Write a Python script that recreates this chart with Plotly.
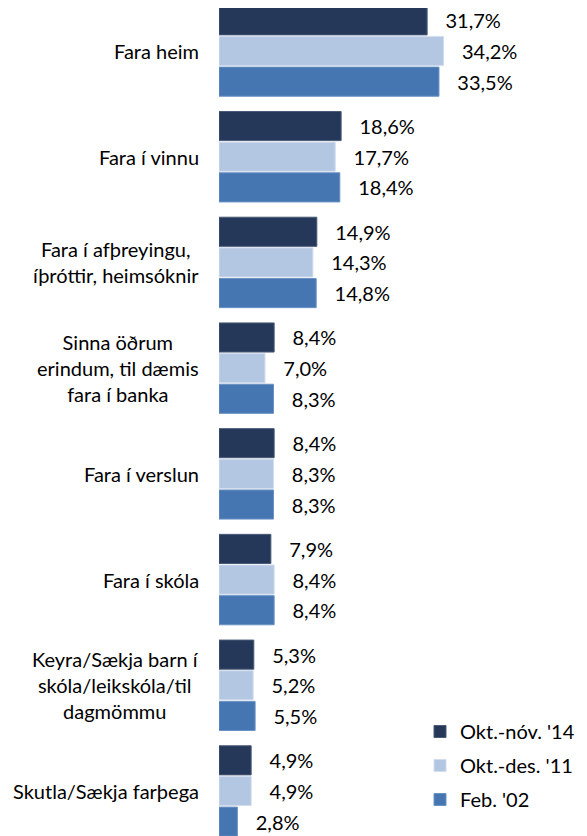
import plotly.graph_objects as go

categories = [
    "Fara heim",
    "Fara í vinnu",
    "Fara í afþreyingu,<br>íþróttir, heimsóknir",
    "Sinna öðrum<br>erindum, til dæmis<br>fara í banka",
    "Fara í verslun",
    "Fara í skóla",
    "Keyra/Sækja barn í<br>skóla/leikskóla/til<br>dagmömmu",
    "Skutla/Sækja farþega",
]
series_names = ["Okt.-nóv. '14", "Okt.-des. '11", "Feb. '02"]
okt_nov_14 = [31.7, 18.6, 14.9, 8.4, 8.4, 7.9, 5.3, 4.9]
okt_des_11 = [34.2, 17.7, 14.3, 7.0, 8.3, 8.4, 5.2, 4.9]
feb_02 = [33.5, 18.4, 14.8, 8.3, 8.3, 8.4, 5.5, 2.8]

colors = ["#253859", "#B3C6E2", "#4676B1"]
edge = ["#4A5B78", "#D2DDEE", "#6A92C4"]
FONT = "Lato"
FS = 20

ypos = list(range(len(categories)))
fig = go.Figure()
for i, (name, vals) in enumerate(zip(series_names, [okt_nov_14, okt_des_11, feb_02])):
    fig.add_trace(go.Bar(
        name=name, y=ypos, x=vals, orientation="h",
        marker=dict(color=colors[i], line=dict(color=edge[i], width=1)),
        texttemplate="\u00a0\u00a0\u00a0%{x:.1f}%",
        textposition="outside", cliponaxis=False, constraintext="none",
        textfont=dict(family=FONT, size=FS, color="#000000"),
        legendgroup=name,
    ))

for i, cat in enumerate(categories):
    fig.add_annotation(
        text=cat, xref="paper", x=0, yref="y", y=i,
        xanchor="right", yanchor="middle", align="center",
        xshift=-18, showarrow=False,
        font=dict(family=FONT, size=FS, color="#000000"),
    )

W, H = 579, 828
fig.update_layout(
    width=W, height=H,
    margin=dict(l=211, r=20, t=0, b=0, autoexpand=False),
    paper_bgcolor="white", plot_bgcolor="white",
    barmode="group", bargap=0.13, bargroupgap=0.05,
    separators=", ",
    showlegend=True,
    legend=dict(
        xref="container", yref="container", x=412 / W, y=1 - 704 / H,
        xanchor="left", yanchor="top",
        font=dict(family=FONT, size=FS, color="#000000"),
        tracegroupgap=5, bgcolor="rgba(0,0,0,0)",
    ),
    xaxis=dict(range=[0, 53], visible=False, automargin=False),
    yaxis=dict(range=[7.4257, -0.4068], showticklabels=False, showgrid=False,
               zeroline=False, showline=False, ticks="", automargin=False),
)
fig.write_html("out.html")
